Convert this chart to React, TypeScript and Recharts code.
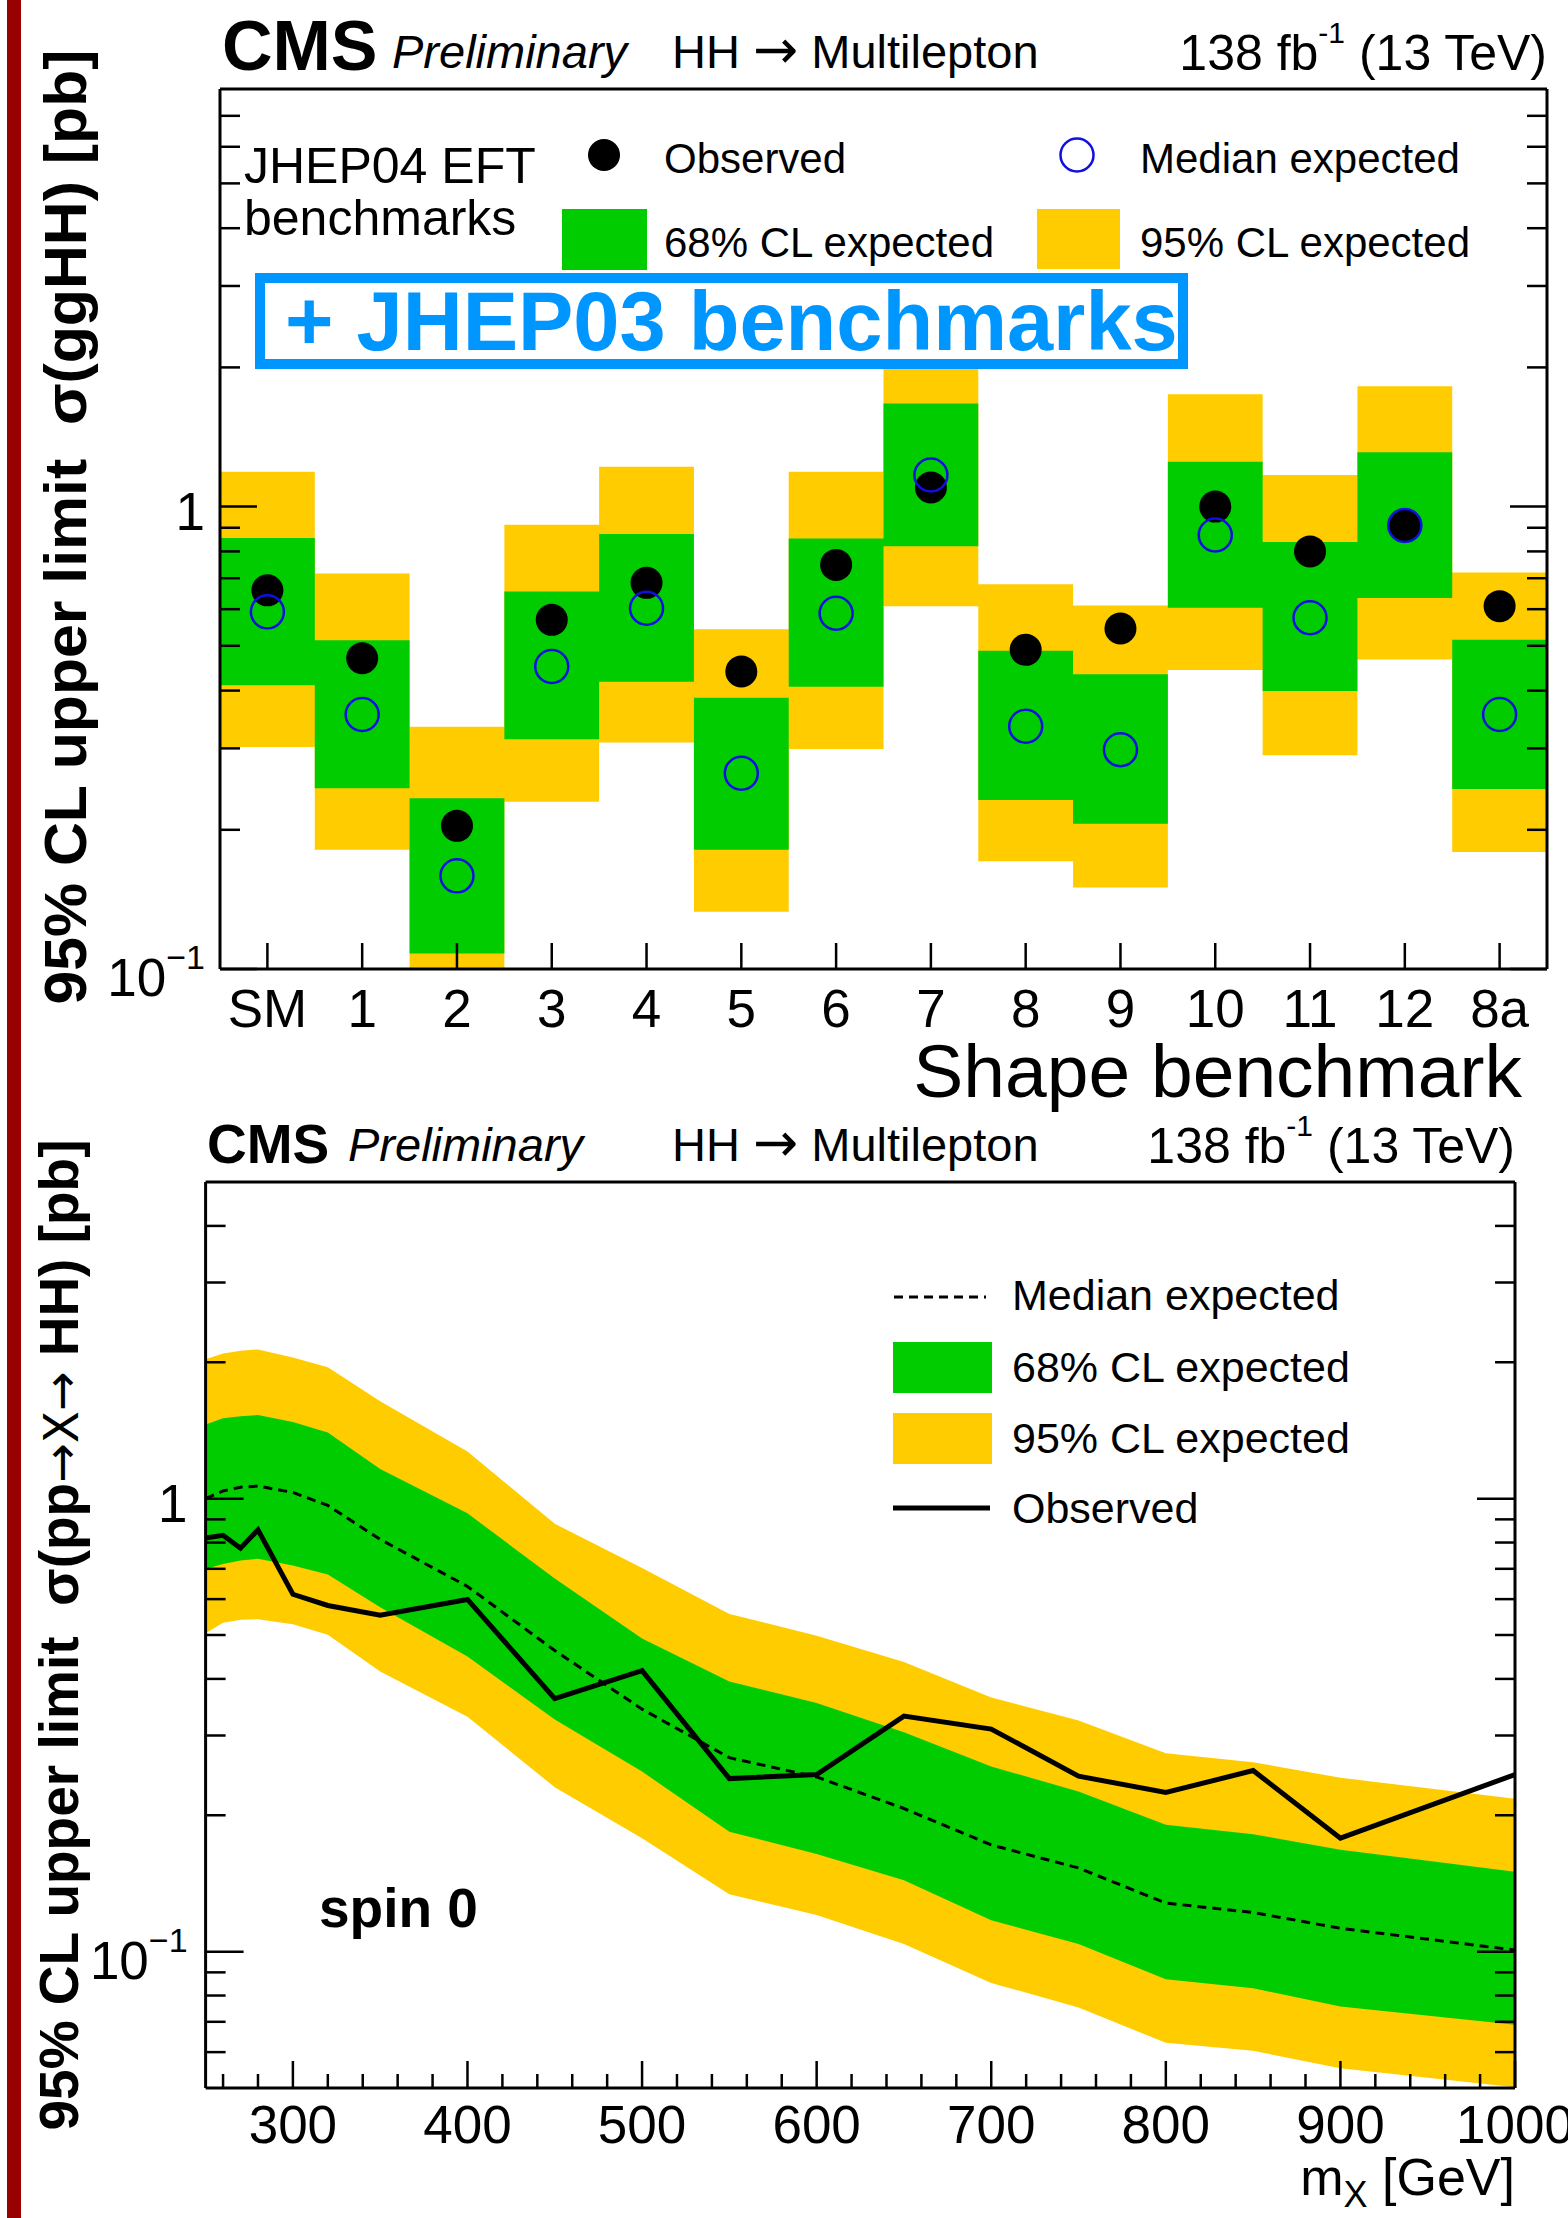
import React from 'react';
import { ComposedChart, Area, Line, Scatter, XAxis, YAxis } from 'recharts';

const FONT = '"Liberation Sans", Arial, Helvetica, sans-serif';
const ARROW_FONT = '"DejaVu Sans", sans-serif';
const GREEN = '#00cc00';
const YELLOW = '#ffcc00';
const RING_BLUE = '#1010e0';
const BOX_BLUE = '#0096ff';
const AXIS_LINE = { stroke: '#000', strokeWidth: 3 };

// ---- Upper panel: ggHH limits per shape benchmark (pb) ----
const benchmarks = ['SM', '1', '2', '3', '4', '5', '6', '7', '8', '9', '10', '11', '12', '8a'];
const obsBench = [0.659, 0.47, 0.204, 0.569, 0.684, 0.44, 0.748, 1.1, 0.49, 0.545, 1.0, 0.8, 0.91, 0.609];
const expBench = [0.592, 0.355, 0.159, 0.451, 0.603, 0.265, 0.588, 1.17, 0.335, 0.298, 0.868, 0.575, 0.91, 0.355];
const lo68Bench = [0.411, 0.246, 0.108, 0.314, 0.418, 0.181, 0.408, 0.821, 0.232, 0.206, 0.604, 0.399, 0.634, 0.245];
const hi68Bench = [0.855, 0.514, 0.234, 0.655, 0.872, 0.386, 0.853, 1.67, 0.488, 0.434, 1.25, 0.838, 1.31, 0.515];
const lo95Bench = [0.302, 0.181, 0.08, 0.23, 0.309, 0.133, 0.299, 0.609, 0.171, 0.15, 0.443, 0.29, 0.467, 0.179];
const hi95Bench = [1.19, 0.717, 0.334, 0.914, 1.22, 0.543, 1.19, 2.3, 0.679, 0.611, 1.75, 1.17, 1.82, 0.72];

const benchYTicks = [0.1, 0.2, 0.3, 0.4, 0.5, 0.6, 0.7, 0.8, 0.9, 1, 2, 3, 4, 5, 6, 7];

// ---- Lower panel: spin-0 resonance limits vs m_X (GeV, pb) ----
const massPoints = [250, 260, 270, 280, 300, 320, 350, 400, 450, 500, 550, 600, 650, 700, 750, 800, 850, 900, 1000];
const obsMass = [0.819, 0.83, 0.777, 0.853, 0.615, 0.581, 0.553, 0.599, 0.362, 0.417, 0.241, 0.246, 0.331, 0.31, 0.244, 0.2245, 0.251, 0.178, 0.246];
const expMass = [1.0, 1.04, 1.06, 1.066, 1.032, 0.966, 0.813, 0.64, 0.462, 0.343, 0.268, 0.243, 0.207, 0.172, 0.153, 0.128, 0.122, 0.1126, 0.1008];
const lo68Mass = [0.699, 0.7175, 0.73, 0.737, 0.712, 0.68, 0.576, 0.448, 0.3255, 0.2497, 0.184, 0.1642, 0.1438, 0.1173, 0.104, 0.0869, 0.083, 0.0757, 0.069];
const hi68Mass = [1.457, 1.504, 1.52, 1.529, 1.476, 1.4, 1.163, 0.928, 0.666, 0.491, 0.395, 0.354, 0.305, 0.2563, 0.2257, 0.1905, 0.1816, 0.1678, 0.15];
const lo95Mass = [0.5045, 0.532, 0.54, 0.542, 0.528, 0.5005, 0.4155, 0.3299, 0.2306, 0.178, 0.1339, 0.1204, 0.104, 0.0853, 0.0753, 0.0629, 0.0604, 0.0553, 0.0502];
const hi95Mass = [2.03, 2.09, 2.12, 2.135, 2.05, 1.95, 1.64, 1.27, 0.88, 0.703, 0.5565, 0.498, 0.436, 0.364, 0.3236, 0.274, 0.262, 0.242, 0.2175];

const massYTicks = [0.06, 0.07, 0.08, 0.09, 0.1, 0.2, 0.3, 0.4, 0.5, 0.6, 0.7, 0.8, 0.9, 1, 2, 3, 4];
const massXTicks = [
  260, 280, 300, 320, 340, 360, 380, 400, 420, 440, 460, 480, 500, 520, 540, 560, 580, 600, 620,
  640, 660, 680, 700, 720, 740, 760, 780, 800, 820, 840, 860, 880, 900, 920, 940, 960, 980, 1000,
];

// Step-band table: one point per bin edge, the last edge repeats the last bin
const benchBands = benchmarks.map((_, i) => ({
  x: i,
  band95: [lo95Bench[i], hi95Bench[i]],
  band68: [lo68Bench[i], hi68Bench[i]],
}));
benchBands.push({ ...benchBands[benchBands.length - 1], x: benchmarks.length });

const benchPoints = benchmarks.map((_, i) => ({ x: i + 0.5, obs: obsBench[i], exp: expBench[i] }));
const benchXTicks = benchmarks.map((_, i) => i + 0.5);

const massData = massPoints.map((m, i) => ({
  m,
  obs: obsMass[i],
  exp: expMass[i],
  band68: [lo68Mass[i], hi68Mass[i]],
  band95: [lo95Mass[i], hi95Mass[i]],
}));

const isDecade = (v: number) => Math.abs(Math.log10(v) - Math.round(Math.log10(v))) < 1e-6;

function DecadeLabel({ x, y, v, gap }: { x: number; y: number; v: number; gap: number }) {
  if (Math.abs(v - 1) < 1e-9) {
    return (
      <text x={x - gap} y={y + 23} textAnchor="end" fontSize={53} fontFamily={FONT}>
        1
      </text>
    );
  }
  return (
    <text x={x - gap} y={y + 27} textAnchor="end" fontSize={53} fontFamily={FONT}>
      10
      <tspan dy={-27} fontSize={34}>
        −1
      </tspan>
    </text>
  );
}

function makeYTick(side: 'left' | 'right', majorLen: number, minorLen: number, gap: number) {
  return (props: any) => {
    const { x, y, payload } = props;
    const v = payload.value as number;
    const major = isDecade(v);
    const len = major ? majorLen : minorLen;
    const x2 = side === 'left' ? x + len : x - len;
    return (
      <g>
        <line x1={x} y1={y} x2={x2} y2={y} stroke="#000" strokeWidth={2.5} />
        {side === 'left' && major ? <DecadeLabel x={x} y={y} v={v} gap={gap} /> : null}
      </g>
    );
  };
}

const BenchXTick = (props: any) => {
  const { x, y, payload } = props;
  const label = benchmarks[Math.floor(payload.value)];
  return (
    <g>
      <line x1={x} y1={y} x2={x} y2={y - 26} stroke="#000" strokeWidth={2.5} />
      <text x={x} y={y + 58} textAnchor="middle" fontSize={53} fontFamily={FONT}>
        {label}
      </text>
    </g>
  );
};

function makeMassTick(side: 'bottom' | 'top') {
  return (props: any) => {
    const { x, y, payload } = props;
    const v = payload.value as number;
    const major = v % 100 === 0;
    const len = major ? 27 : 14;
    const y2 = side === 'bottom' ? y - len : y + len;
    return (
      <g>
        <line x1={x} y1={y} x2={x} y2={y2} stroke="#000" strokeWidth={2.5} />
        {side === 'bottom' && major ? (
          <text x={x} y={y + 55} textAnchor="middle" fontSize={53} fontFamily={FONT}>
            {v}
          </text>
        ) : null}
      </g>
    );
  };
}

const ObservedDot = (p: any) => <circle cx={p.cx} cy={p.cy} r={16} fill="#000" />;
const ExpectedRing = (p: any) => (
  <circle cx={p.cx} cy={p.cy} r={16.5} fill="none" stroke={RING_BLUE} strokeWidth={2.5} />
);

function BenchmarkPanel() {
  return (
    <ComposedChart width={1568} height={1110} margin={{ top: 88, right: 20, bottom: 41, left: 120 }}>
      <Area data={benchBands} dataKey="band95" type="stepAfter" fill={YELLOW} fillOpacity={1} stroke="none" isAnimationActive={false} />
      <Area data={benchBands} dataKey="band68" type="stepAfter" fill={GREEN} fillOpacity={1} stroke="none" isAnimationActive={false} />
      <Scatter data={benchPoints} dataKey="obs" shape={ObservedDot} isAnimationActive={false} />
      <Scatter data={benchPoints} dataKey="exp" shape={ExpectedRing} isAnimationActive={false} />
      <XAxis
        dataKey="x"
        type="number"
        domain={[0, benchmarks.length]}
        allowDataOverflow
        ticks={benchXTicks}
        interval={0}
        tick={BenchXTick}
        tickLine={false}
        tickSize={0}
        tickMargin={0}
        height={100}
        axisLine={AXIS_LINE}
      />
      <XAxis
        xAxisId="top"
        orientation="top"
        type="number"
        domain={[0, benchmarks.length]}
        allowDataOverflow
        tick={false}
        tickLine={false}
        height={1}
        axisLine={AXIS_LINE}
      />
      <YAxis
        type="number"
        scale="log"
        domain={[0.1, 8]}
        allowDataOverflow
        ticks={benchYTicks}
        interval={0}
        tick={makeYTick('left', 37, 20, 15)}
        tickLine={false}
        tickSize={0}
        tickMargin={0}
        width={100}
        axisLine={AXIS_LINE}
      />
      <YAxis
        yAxisId="right"
        orientation="right"
        type="number"
        scale="log"
        domain={[0.1, 8]}
        allowDataOverflow
        ticks={benchYTicks}
        interval={0}
        tick={makeYTick('right', 37, 20, 15)}
        tickLine={false}
        tickSize={0}
        tickMargin={0}
        width={1}
        axisLine={AXIS_LINE}
      />
    </ComposedChart>
  );
}

function ResonancePanel() {
  return (
    <ComposedChart width={1568} height={1108} data={massData} margin={{ top: 71, right: 52, bottom: 30, left: 105.6 }}>
      <Area dataKey="band95" type="linear" fill={YELLOW} fillOpacity={1} stroke="none" isAnimationActive={false} />
      <Area dataKey="band68" type="linear" fill={GREEN} fillOpacity={1} stroke="none" isAnimationActive={false} />
      <Line dataKey="exp" type="linear" stroke="#000" strokeWidth={3} strokeDasharray="9 6" dot={false} isAnimationActive={false} />
      <Line dataKey="obs" type="linear" stroke="#000" strokeWidth={5} dot={false} isAnimationActive={false} />
      <XAxis
        dataKey="m"
        type="number"
        domain={[250, 1000]}
        allowDataOverflow
        ticks={massXTicks}
        interval={0}
        tick={makeMassTick('bottom')}
        tickLine={false}
        tickSize={0}
        tickMargin={0}
        height={100}
        axisLine={AXIS_LINE}
      />
      <XAxis
        xAxisId="top"
        orientation="top"
        type="number"
        domain={[250, 1000]}
        allowDataOverflow
        ticks={massXTicks}
        interval={0}
        tick={makeMassTick('top')}
        tickLine={false}
        tickSize={0}
        tickMargin={0}
        height={1}
        axisLine={AXIS_LINE}
      />
      <YAxis
        type="number"
        scale="log"
        domain={[0.05, 5]}
        allowDataOverflow
        ticks={massYTicks}
        interval={0}
        tick={makeYTick('left', 38, 20, 18)}
        tickLine={false}
        tickSize={0}
        tickMargin={0}
        width={100}
        axisLine={AXIS_LINE}
      />
      <YAxis
        yAxisId="right"
        orientation="right"
        type="number"
        scale="log"
        domain={[0.05, 5]}
        allowDataOverflow
        ticks={massYTicks}
        interval={0}
        tick={makeYTick('right', 38, 20, 18)}
        tickLine={false}
        tickSize={0}
        tickMargin={0}
        width={1}
        axisLine={AXIS_LINE}
      />
    </ComposedChart>
  );
}

function Header({ y, cmsX, cmsSize, prelimX, rightX }: { y: number; cmsX: number; cmsSize: number; prelimX: number; rightX: number }) {
  return (
    <g>
      <text x={cmsX} y={y} fontSize={cmsSize} fontWeight="bold">
        CMS
      </text>
      <text x={prelimX} y={y - 2} fontSize={47} fontStyle="italic">
        Preliminary
      </text>
      <text x={672} y={y - 2} fontSize={47}>
        HH <tspan fontFamily={ARROW_FONT} fontSize={54}>→</tspan> Multilepton
      </text>
      <text x={rightX} y={y} fontSize={50} textAnchor="end">
        138 fb
        <tspan dy={-27} fontSize={30}>
          -1
        </tspan>
        <tspan dy={27}> (13 TeV)</tspan>
      </text>
    </g>
  );
}

function Annotations() {
  return (
    <svg
      width={1568}
      height={2218}
      style={{ position: 'absolute', left: 0, top: 0, pointerEvents: 'none' }}
      fontFamily={FONT}
    >
      <rect x={7} y={0} width={14} height={2218} fill="#990000" />

      {/* upper panel */}
      <Header y={70} cmsX={222} cmsSize={70} prelimX={392} rightX={1547} />
      <text x={244} y={183} fontSize={50}>JHEP04 EFT</text>
      <text x={244} y={235} fontSize={50}>benchmarks</text>
      <circle cx={604} cy={155} r={16} fill="#000" />
      <text x={664} y={173} fontSize={42}>Observed</text>
      <circle cx={1077} cy={155} r={16.5} fill="none" stroke={RING_BLUE} strokeWidth={2.5} />
      <text x={1140} y={173} fontSize={42}>Median expected</text>
      <rect x={562} y={209} width={85} height={61} fill={GREEN} />
      <text x={664} y={257} fontSize={42}>68% CL expected</text>
      <rect x={1037} y={209} width={83} height={60} fill={YELLOW} />
      <text x={1140} y={257} fontSize={42}>95% CL expected</text>
      <rect x={260} y={278} width={923} height={86} fill="#fff" stroke={BOX_BLUE} strokeWidth={10} />
      <text x={285} y={350} fontSize={83} fontWeight="bold" fill={BOX_BLUE}>
        + JHEP03 benchmarks
      </text>
      <text x={1522} y={1097} fontSize={75} textAnchor="end">
        Shape benchmark
      </text>
      <text
        transform="translate(86,527) rotate(-90)"
        textAnchor="middle"
        fontSize={60}
        fontWeight="bold"
        textLength={955}
        lengthAdjust="spacingAndGlyphs"
      >
        95% CL upper limit{'\u00A0 '}σ(ggHH) [pb]
      </text>

      {/* lower panel */}
      <Header y={1163} cmsX={207} cmsSize={55} prelimX={348} rightX={1515} />
      <line x1={894} y1={1297} x2={986} y2={1297} stroke="#000" strokeWidth={3} strokeDasharray="9 6" />
      <text x={1012} y={1310} fontSize={43}>Median expected</text>
      <rect x={893} y={1342} width={99} height={51} fill={GREEN} />
      <text x={1012} y={1382} fontSize={43}>68% CL expected</text>
      <rect x={893} y={1413} width={99} height={51} fill={YELLOW} />
      <text x={1012} y={1453} fontSize={43}>95% CL expected</text>
      <line x1={893} y1={1508} x2={990} y2={1508} stroke="#000" strokeWidth={5} />
      <text x={1012} y={1523} fontSize={43}>Observed</text>
      <text x={319} y={1927} fontSize={55} fontWeight="bold">
        spin 0
      </text>
      <text x={1515} y={2195} fontSize={52} textAnchor="end">
        m
        <tspan dy={12} fontSize={36}>
          X
        </tspan>
        <tspan dy={-12}> [GeV]</tspan>
      </text>
      <text
        transform="translate(78,1635) rotate(-90)"
        textAnchor="middle"
        fontSize={56}
        fontWeight="bold"
        textLength={991}
        lengthAdjust="spacingAndGlyphs"
      >
        95% CL upper limit{'\u00A0 '}σ(pp
        <tspan fontWeight="normal" fontFamily={ARROW_FONT} fontSize={48}>→X→</tspan> HH) [pb]
      </text>
    </svg>
  );
}

export default function App() {
  return (
    <div style={{ position: 'absolute', left: 0, top: 0, width: 1568, height: 2218, background: '#fff', overflow: 'hidden' }}>
      <div style={{ position: 'absolute', left: 0, top: 0 }}>
        <BenchmarkPanel />
      </div>
      <div style={{ position: 'absolute', left: 0, top: 1110 }}>
        <ResonancePanel />
      </div>
      <Annotations />
    </div>
  );
}
